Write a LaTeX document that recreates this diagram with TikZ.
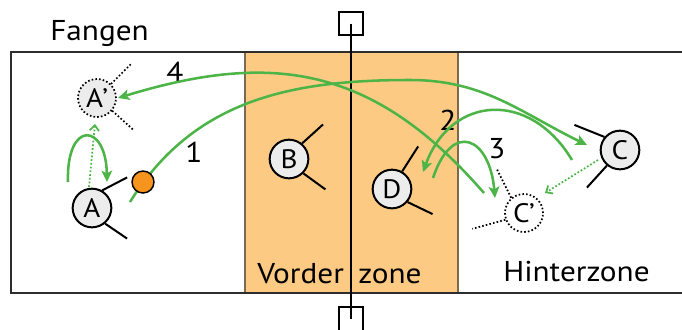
\documentclass[tikz,border=0pt]{standalone}
\usepackage{fontspec}
\setmainfont{PT Sans}[FakeStretch=1.09]
\usetikzlibrary{arrows.meta}
\definecolor{zoneorange}{RGB}{253,202,132}
\definecolor{passgreen}{RGB}{77,181,72}
\definecolor{ballorange}{RGB}{247,148,30}
\definecolor{playerfill}{RGB}{236,236,236}
\definecolor{courtline}{RGB}{45,45,45}
\definecolor{zoneline}{RGB}{125,105,80}
\begin{document}
\begin{tikzpicture}[x=0.75pt,y=-0.75pt,
  font=\fontsize{21.5}{25}\selectfont,
  player/.style={circle,draw=black,line width=1.5pt,fill=playerfill,minimum size=29pt,inner sep=0pt},
  ghost/.style={circle,draw=black,line width=1.3pt,dash pattern=on 1.2pt off 1.6pt,minimum size=28.5pt,inner sep=0pt},
  arm/.style={line width=1.5pt},
  ghostarm/.style={line width=1.3pt,dash pattern=on 1.2pt off 1.6pt},
  pass/.style={passgreen,line width=1.9pt,-{Stealth[length=8.5pt,width=8pt,inset=2pt]}},
  move/.style={passgreen,line width=1.3pt,dash pattern=on 1.3pt off 1.5pt,-{Straight Barb[length=4pt,width=7pt]}},
  netpost/.style={draw=black,line width=1.5pt,minimum width=18pt,minimum height=17.5pt,inner sep=0pt},
  txt/.style={inner sep=0pt},
  ptxt/.style={font=\fontsize{20}{24}\selectfont},
  ball/.style={circle,draw=black,line width=1.1pt,fill=ballorange,minimum size=16.5pt,inner sep=0pt}]
\useasboundingbox (0,0) rectangle (682,329);
% court
\fill[white] (11,52) rectangle (690,293);
\fill[zoneorange] (245,52) rectangle (458,293);
\draw[zoneline,line width=0.9pt] (245,52) -- (245,293) (458,52) -- (458,293);
\draw[courtline,line width=1.6pt] (690,52) -- (11,52) -- (11,293) -- (690,293);
% net
\node[netpost] (nettop) at (351,23.5) {};
\node[netpost] (netbot) at (351,319) {};
\draw[black,line width=2pt] (nettop.center) -- (netbot.center);
% texts
\node[txt,anchor=base west] (fangen) at (50,40) {Fangen};
\node[txt,anchor=base west] (vorder) at (257,283) {Vorder};
\node[txt,anchor=base west] (zone) at (358,283) {zone};
\node[txt,anchor=base west] (hinter) at (503,281) {Hinterzone};
\node[txt] (n1) at (194,152) {1};
\node[txt] (n2) at (448,120) {2};
\node[txt] (n3) at (497,149) {3};
\node[txt] (n4) at (175,72) {4};
% players
\node[player,ptxt] (A) at (92,208) {A};
\node[player,ptxt] (B) at (289,159) {B};
\node[player,ptxt] (D) at (392,189) {D};
\node[player,ptxt] (C) at (620,150) {C};
\node[ghost,ptxt,fill=playerfill] (Ap) at (97,98) {A\kern-0.5pt’};
\node[ghost,ptxt,fill=white] (Cp) at (524,213) {C\kern-0.5pt’};
\draw[arm] (A.60) -- ++(25,-13) (A.-50) -- ++(22,15);
\draw[arm] (B.50) -- ++(21,-19) (B.-45) -- ++(22,16);
\draw[arm] (D.60) -- ++(16,-25) (D.-40) -- ++(25,12);
\draw[arm] (C.140) -- ++(-30,-12) (C.-130) -- ++(-20,22);
\draw[ghostarm] (Ap.45) -- ++(21,-21) (Ap.-40) -- ++(21,19);
\draw[ghostarm] (Cp.130) -- ++(-15,-30) (Cp.-160) -- ++(-33,9);
% green paths
\coordinate (c1s) at (130,202);
\coordinate (c1m) at (410,80);
\coordinate (c1e) at (587,145);
\draw[pass] (c1s) .. controls (193.6,100) and (290,80) .. (c1m)
               .. controls (484,80) and (520.5,112.6) .. (c1e);
\coordinate (c4s) at (484,193);
\coordinate (c4e) at (118,98);
\draw[pass] (c4s) .. controls (372.5,64.7) and (271,51.3) .. (c4e);
\coordinate (c2s) at (572,160);
\coordinate (c2e) at (423,172);
\draw[pass] (c2s) .. controls (529.8,89.7) and (451,95) .. (c2e);
\coordinate (c3s) at (433,178);
\coordinate (c3e) at (495,198);
\draw[pass] (c3s) .. controls (452.3,120) and (489.7,137.2) .. (c3e);
\coordinate (lps) at (68,182);
\coordinate (lpe) at (107,182);
\draw[pass] (lps) .. controls (66,120) and (106,122) .. (lpe);
\coordinate (mAs) at (89,187);
\coordinate (mAe) at (95,124);
\draw[move] (mAs) -- (mAe);
\coordinate (mCs) at (598,160);
\coordinate (mCe) at (545,193);
\draw[move] (mCs) -- (mCe);
% ball
\node[ball] (theball) at (143,182) {};
\end{tikzpicture}
\end{document}
